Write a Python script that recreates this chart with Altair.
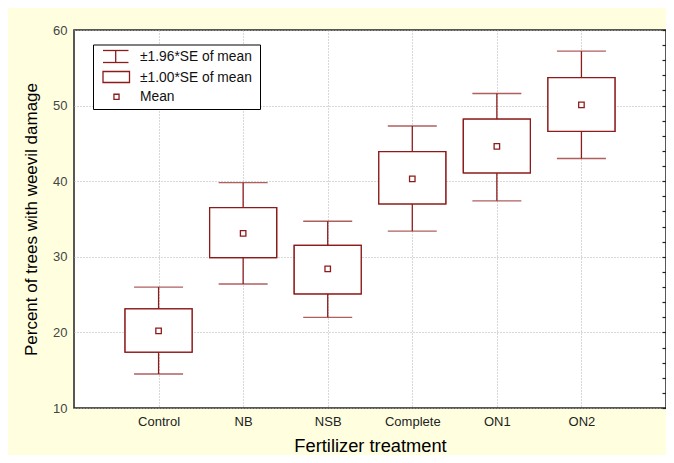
import altair as alt
import pandas as pd

treatments = ["Control", "NB", "NSB", "Complete", "ON1", "ON2"]
means = [20.2, 33.1, 28.4, 40.3, 44.6, 50.1]
se1_lo = [17.4, 29.9, 25.1, 37.0, 41.1, 46.6]
se1_hi = [23.1, 36.5, 31.5, 43.9, 48.2, 53.7]
se196_lo = [14.5, 26.4, 22.0, 33.4, 37.4, 43.0]
se196_hi = [26.0, 39.8, 34.7, 47.3, 51.6, 57.2]

legend_labels = ["±1.96*SE of mean", "±1.00*SE of mean", "Mean"]

df = pd.DataFrame({
    "treatment": treatments,
    "mean": means,
    "lo1": se1_lo,
    "hi1": se1_hi,
    "lo196": se196_lo,
    "hi196": se196_hi,
})

RED = "#8E1B1B"
FONT = "Liberation Sans"
W, H = 592, 378

xs = alt.Scale(type="point", padding=1, domain=treatments)
ys = alt.Scale(domain=[10, 60], nice=False, zero=False)

base = alt.Chart(df)

x_axis = alt.Axis(
    title="Fertilizer treatment", grid=True, gridDash=[1, 2], gridColor="#b0b0b0",
    ticks=False, tickSize=0, domain=False, labelAngle=0, labelFontSize=13,
    labelColor="#222", labelPadding=7, titleFontSize=18.3, titleFontWeight="normal",
    titlePadding=9, labelFont=FONT, titleFont=FONT, titleColor="#000",
)
y_axis = alt.Axis(
    title="Percent of trees with weevil damage", values=[10, 20, 30, 40, 50, 60],
    grid=True, gridDash=[1, 2], gridColor="#b0b0b0", ticks=False, tickSize=0,
    domain=False, labelFontSize=13, labelColor="#444", labelPadding=7,
    titleFontSize=17, titleFontWeight="normal", titlePadding=12,
    labelFont=FONT, titleFont=FONT, titleColor="#000",
)
right_axis = alt.Axis(
    orient="right", title=None, values=list(range(10, 61, 2)), labels=False,
    domain=False, grid=False, ticks=True, tickSize=4, offset=-4,
    tickColor="#222", tickWidth=1.2,
)

box = base.mark_bar(size=67, fill="white", stroke=RED, strokeWidth=1.3).encode(
    x=alt.X("treatment:N", scale=xs, axis=x_axis),
    y=alt.Y("lo1:Q", scale=ys, axis=y_axis),
    y2="hi1:Q",
)
whisk = base.mark_rule(color=RED, strokeWidth=1.3).encode(
    x=alt.X("treatment:N", scale=xs, axis=None),
    y=alt.Y("lo196:Q", scale=ys, axis=None),
    y2="hi196:Q",
)
caps_lo = base.mark_tick(color=RED, size=49, thickness=1.3).encode(
    x=alt.X("treatment:N", scale=xs, axis=None),
    y=alt.Y("lo196:Q", scale=ys, axis=None),
)
caps_hi = base.mark_tick(color=RED, size=49, thickness=1.3).encode(
    x=alt.X("treatment:N", scale=xs, axis=None),
    y=alt.Y("hi196:Q", scale=ys, axis=None),
)
box_fill = base.mark_bar(size=67, fill="white", stroke=RED, strokeWidth=1.3).encode(
    x=alt.X("treatment:N", scale=xs, axis=None),
    y=alt.Y("lo1:Q", scale=ys, axis=None),
    y2="hi1:Q",
)
mean_pt = base.mark_point(shape="square", size=30, filled=False, color=RED,
                          strokeWidth=1.3, opacity=1).encode(
    x=alt.X("treatment:N", scale=xs, axis=None),
    y=alt.Y("mean:Q", scale=ys, axis=right_axis),
)

# legend (decoration)
one = alt.Chart(pd.DataFrame({"k": [0]}))
leg_box = one.mark_rect(fill="white", stroke="#000", strokeWidth=1).encode(
    x=alt.value(19.5), x2=alt.value(186.5), y=alt.value(15), y2=alt.value(79.5))
leg_w1 = one.mark_rule(color=RED, strokeWidth=1.3).encode(
    x=alt.value(29), x2=alt.value(54.5), y=alt.value(20.5))
leg_w2 = one.mark_rule(color=RED, strokeWidth=1.3).encode(
    x=alt.value(29), x2=alt.value(54.5), y=alt.value(32.5))
leg_w3 = one.mark_rule(color=RED, strokeWidth=1.3).encode(
    x=alt.value(41.7), y=alt.value(20.5), y2=alt.value(32.5))
leg_rect = one.mark_rect(fill="white", stroke=RED, strokeWidth=1.3).encode(
    x=alt.value(29), x2=alt.value(55.5), y=alt.value(41.5), y2=alt.value(52.5))
leg_sq = one.mark_point(shape="square", size=26, filled=False, color=RED,
                        strokeWidth=1.3, opacity=1).encode(
    x=alt.value(42.5), y=alt.value(66.8))
leg_texts = [
    one.mark_text(align="left", baseline="middle", fontSize=13.8, font=FONT,
                  color="#111", text=lab).encode(x=alt.value(66), y=alt.value(yy))
    for lab, yy in zip(legend_labels, [27.3, 47.7, 66.7])
]

chart = alt.layer(
    box, whisk, caps_lo, caps_hi, box_fill, mean_pt,
    leg_box, leg_w1, leg_w2, leg_w3, leg_rect, leg_sq, *leg_texts,
).resolve_axis(x="independent", y="independent").properties(
    width=W, height=H,
    background="#FFFFE0",
    autosize=alt.AutoSizeParams(type="none"),
    padding={"left": 66, "top": 22, "right": 0, "bottom": 47},
).configure_view(stroke="#222", strokeWidth=1.5, fill="white")

chart.save("out.html", embed_options={"renderer": "svg", "actions": False})
